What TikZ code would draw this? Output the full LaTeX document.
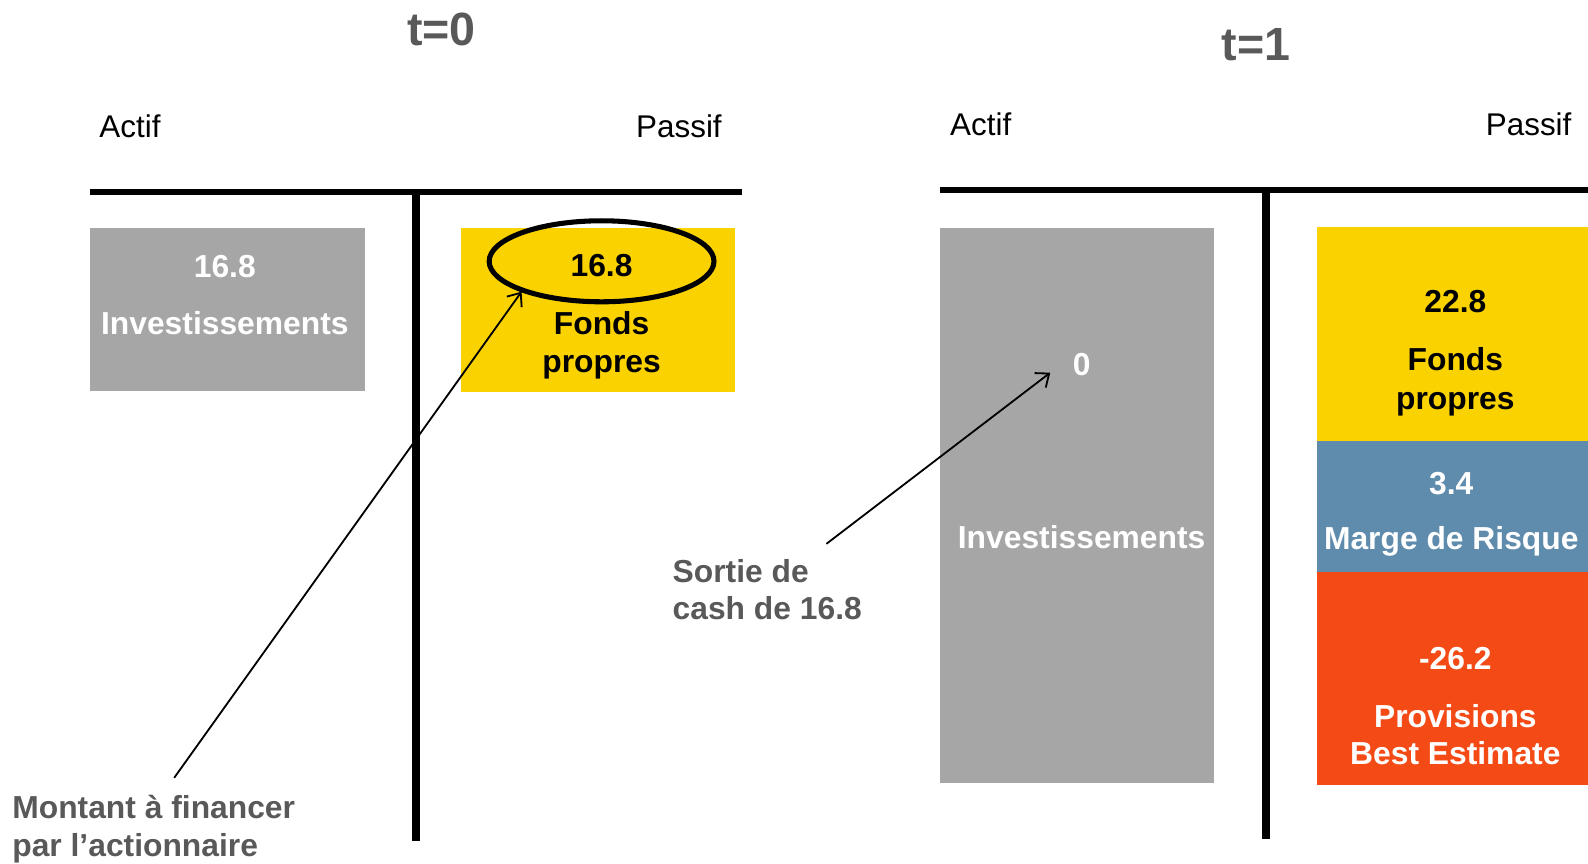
\documentclass[tikz,border=0pt]{standalone}
\usepackage{fontspec}
\setmainfont{Liberation Sans}
\usetikzlibrary{shapes.geometric,arrows.meta}
\definecolor{boxgrey}{HTML}{A6A6A6}
\definecolor{boxyellow}{HTML}{FAD200}
\definecolor{boxblue}{HTML}{5F8CAD}
\definecolor{boxred}{HTML}{F44A16}
\definecolor{txtgrey}{HTML}{595959}
\tikzset{
  box/.style={anchor=north west,inner sep=0,outer sep=0,draw=none},
  lbl/.style={anchor=base,inner sep=0,font=\fontsize{31.4}{37.7}\selectfont\bfseries},
  lblw/.style={lbl,text=white},
  lblk/.style={lbl,text=black},
  lblg/.style={lbl,anchor=base west,text=txtgrey},
  head/.style={anchor=base west,inner sep=0,font=\fontsize{31}{37}\selectfont},
  ttl/.style={anchor=base,inner sep=0,text=txtgrey,font=\fontsize{46}{50}\selectfont\bfseries},
  tline/.style={line width=6pt,draw=black},
  arr/.style={line width=1.8pt,-{Straight Barb[length=11pt,width=18pt,line width=1.8pt]}}
}
\begin{document}
\begin{tikzpicture}[x=1pt,y=-1pt]
\useasboundingbox (0,0) rectangle (1568,853);
% titles
\node[ttl] (t0) at (436,45) {t=0};
\node[ttl] (t1) at (1240,60) {t=1};
\node[head] (a0) at (98,136) {Actif};
\node[head] (p0) at (628,136) {Passif};
\node[head] (a1) at (938,134) {Actif};
\node[head] (p1) at (1467,134) {Passif};
% T lines
\coordinate (h0a) at (89,190); \coordinate (h0b) at (733,190);
\coordinate (v0a) at (411,187); \coordinate (v0b) at (411,830);
\coordinate (h1a) at (928,188); \coordinate (h1b) at (1568,188);
\coordinate (v1a) at (1250,185); \coordinate (v1b) at (1250,828);
\draw[tline] (h0a) -- (h0b);
\draw[tline,line width=8pt] (v0a) -- (v0b);
\draw[tline] (h1a) -- (h1b);
\draw[tline,line width=7.5pt] (v1a) -- (v1b);
% t=0 boxes
\node[box,fill=boxgrey,minimum width=271,minimum height=161] (g0) at (89,225) {};
\node[box,fill=boxyellow,minimum width=271,minimum height=162] (y0) at (455,225) {};
\node[lblw] (g0v) at (222,274) {16.8};
\node[lblw] (g0t) at (222,330) {Investissements};
\node[draw=black,line width=5pt,ellipse,minimum width=222,minimum height=80,inner sep=0] (ell) at (594,258) {};
\node[lblk] (y0v) at (594,273) {16.8};
\node[lblk] (y0t1) at (594,330) {Fonds};
\node[lblk] (y0t2) at (594,368) {propres};
% t=1 boxes
\node[box,fill=boxgrey,minimum width=271,minimum height=548] (g1) at (928,225) {};
\node[box,fill=boxyellow,minimum width=268,minimum height=211] (y1) at (1300,224) {};
\node[box,fill=boxblue,minimum width=268,minimum height=130] (b1) at (1300,435) {};
\node[box,fill=boxred,minimum width=268,minimum height=210] (r1) at (1300,565) {};
\node[lblw] (g1v) at (1068,371) {0};
\node[lblw] (g1t) at (1068,542) {Investissements};
\node[lblk] (y1v) at (1437,309) {22.8};
\node[lblk] (y1t1) at (1437,366) {Fonds};
\node[lblk] (y1t2) at (1437,404) {propres};
\node[lblw] (b1v) at (1433,488) {3.4};
\node[lblw] (b1t) at (1433,543) {Marge de Risque};
\node[lblw] (r1v) at (1437,661) {-26.2};
\node[lblw] (r1t1) at (1437,718) {Provisions};
\node[lblw] (r1t2) at (1437,755) {Best Estimate};
% annotations
\node[lblg] (m1) at (12,808) {Montant à financer};
\node[lblg] (m2) at (12,846) {par l’actionnaire};
\node[lblg] (s1) at (664,575) {Sortie de};
\node[lblg] (s2) at (664,612) {cash de 16.8};
\coordinate (mstart) at (172,768);
\coordinate (mend) at (515,288);
\coordinate (sstart) at (816,537);
\coordinate (send) at (1037,368);
\draw[arr] (mstart) -- (mend);
\draw[arr] (sstart) -- (send);
\end{tikzpicture}
\end{document}
